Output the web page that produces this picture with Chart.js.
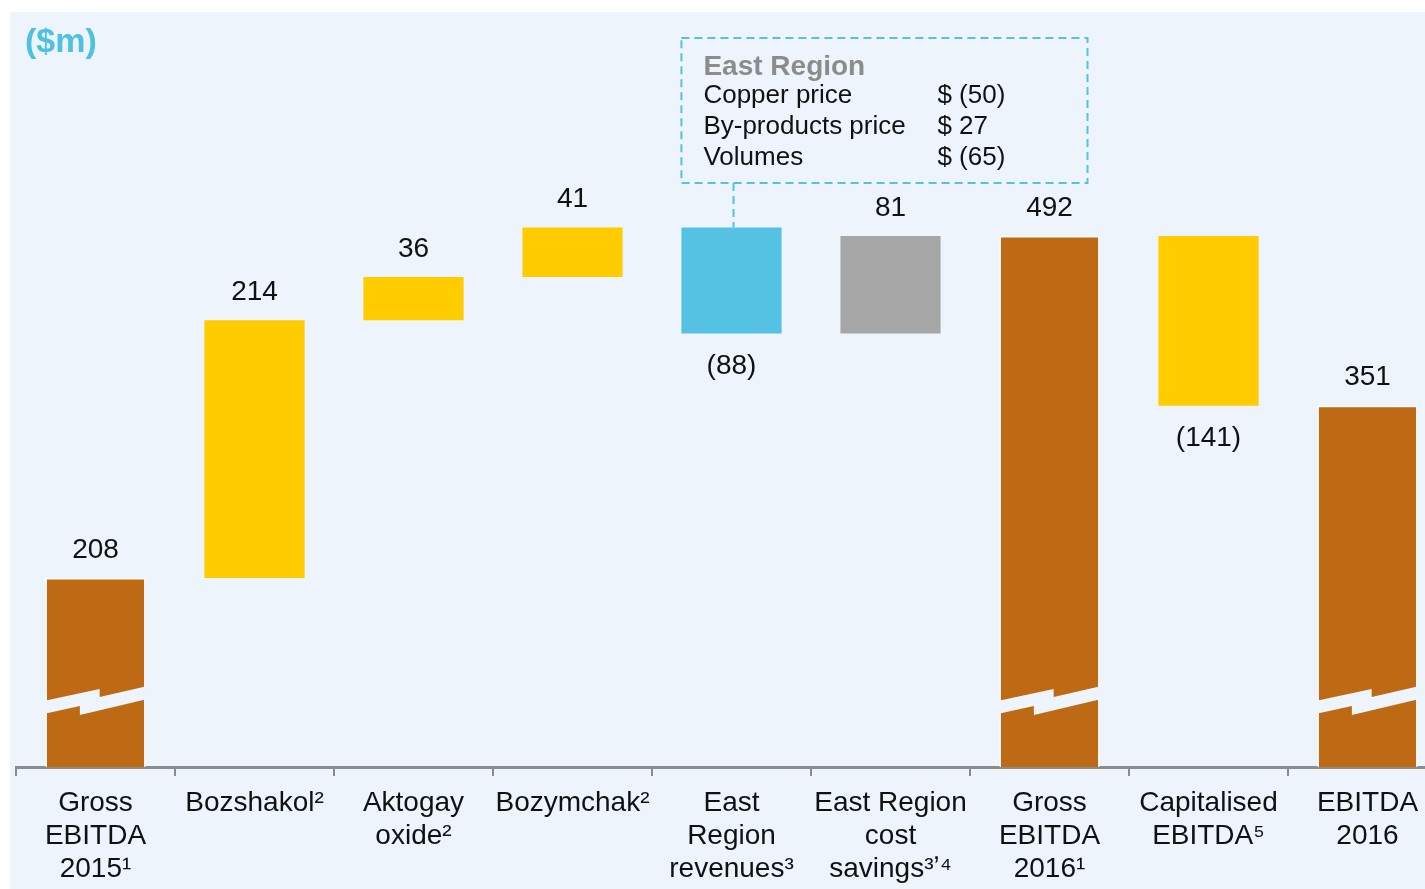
<!DOCTYPE html>
<html>
<head>
<meta charset="utf-8">
<script src="https://cdn.jsdelivr.net/npm/chart.js@4/dist/chart.umd.min.js"></script>
<style>
	html, body { margin: 0; padding: 0; overflow: hidden; background: #fff; }
	#wrap { position: absolute; left: 0; top: 0; width: 1450px; height: 889px; }
</style>
</head>
<body>
<div id="wrap"><canvas id="myChart" width="1450" height="889"></canvas></div>
<script>
const categories = [
	["Gross", "EBITDA", "2015¹"],
	"Bozshakol²",
	["Aktogay", "oxide²"],
	"Bozymchak²",
	["East", "Region", "revenues³"],
	["East Region", "cost", "savings³ʼ⁴"],
	["Gross", "EBITDA", "2016¹"],
	["Capitalised", "EBITDA⁵"],
	["EBITDA", "2016"],
];
const values = [208, 214, 36, 41, -88, 81, 492, -141, 351];
const isTotal = [true, false, false, false, false, false, true, false, true];
const barColors = ["#BE6A15", "#FFCC00", "#FFCC00", "#FFCC00", "#56C2E3", "#A6A6A6", "#BE6A15", "#FFCC00", "#BE6A15"];

const eastRegionTitle = "East Region";
const eastRegionItems = ["Copper price", "By-products price", "Volumes"];
const eastRegionValues = ["$ (50)", "$ 27", "$ (65)"];

const FONT = "'Liberation Sans', Arial, sans-serif";

// waterfall ranges
let running = 0;
const ranges = values.map((v, i) => {
	if (isTotal[i]) {
		running = v;
		return [0, v];
	}
	const start = running;
	running += v;
	return [start, running];
});

const backgroundPlugin = {
	id: "bg",
	beforeDraw(chart) {
		const ctx = chart.ctx;
		ctx.save();
		ctx.fillStyle = "#fff";
		ctx.fillRect(0, 0, chart.width, chart.height);
		ctx.fillStyle = "#EDF4FC";
		ctx.fillRect(10, 12, chart.width - 10, chart.height - 12);
		ctx.restore();
	},
};

const decorPlugin = {
	id: "decor",
	afterDraw(chart) {
		const ctx = chart.ctx;
		const bars = chart.getDatasetMeta(0).data;
		const area = chart.chartArea;
		ctx.save();

		// broken bar marks
		bars.forEach((bar, i) => {
			if (!isTotal[i]) return;
			const L = bar.x - bar.width / 2 - 2;
			const R = bar.x + bar.width / 2 + 2;
			const W = R - L;
			const yc = area.bottom - 67;
			ctx.fillStyle = "#EDF4FC";
			ctx.beginPath();
			ctx.moveTo(L, yc + 1);
			ctx.lineTo(L + 0.54 * W, yc - 11);
			ctx.lineTo(L + 0.54 * W, yc - 3);
			ctx.lineTo(R, yc - 14);
			ctx.lineTo(R, yc - 1);
			ctx.lineTo(L + 0.35 * W, yc + 15);
			ctx.lineTo(L + 0.35 * W, yc + 6);
			ctx.lineTo(L, yc + 14);
			ctx.closePath();
			ctx.fill();
		});

		// value labels
		ctx.fillStyle = "#111";
		ctx.font = "28px " + FONT;
		ctx.textAlign = "center";
		ctx.textBaseline = "middle";
		bars.forEach((bar, i) => {
			const top = Math.min(bar.y, bar.base);
			const bottom = Math.max(bar.y, bar.base);
			const v = values[i];
			if (v < 0) {
				ctx.fillText("(" + (-v) + ")", bar.x, bottom + 33);
			} else {
				ctx.fillText(String(v), bar.x, top - 28);
			}
		});

		// title
		ctx.fillStyle = "#4FC1E0";
		ctx.font = "bold 34px " + FONT;
		ctx.textAlign = "left";
		ctx.fillText("($m)", 25, 43);

		// East Region callout
		const eb = bars[4];
		const bx1 = eb.x - eb.width / 2;
		const bx2 = chart.scales.x.getPixelForValue(6) + 38;
		const by1 = 38, by2 = 183;
		ctx.strokeStyle = "#56C2E3";
		ctx.lineWidth = 2;
		ctx.setLineDash([8, 5]);
		ctx.strokeRect(bx1, by1, bx2 - bx1, by2 - by1);
		ctx.beginPath();
		ctx.moveTo(eb.x + 2, by2);
		ctx.lineTo(eb.x + 2, Math.min(eb.y, eb.base));
		ctx.stroke();
		ctx.setLineDash([]);

		ctx.fillStyle = "#8C8C8C";
		ctx.font = "bold 28px " + FONT;
		ctx.fillText(eastRegionTitle, bx1 + 22, 67);
		ctx.fillStyle = "#111";
		ctx.font = "26px " + FONT;
		eastRegionItems.forEach((t, k) => {
			ctx.fillText(t, bx1 + 22, 96 + k * 31);
			ctx.fillText(eastRegionValues[k], bx1 + 256, 96 + k * 31);
		});
		ctx.restore();
	},
};

new Chart(document.getElementById("myChart"), {
	type: "bar",
	data: {
		labels: categories,
		datasets: [
			{
				data: ranges,
				backgroundColor: barColors,
				borderColor: isTotal.map(t => (t ? "#ffffff" : "rgba(0,0,0,0)")),
				borderWidth: isTotal.map(t => (t ? 1.5 : 0)),
				borderSkipped: false,
				barPercentage: 0.63,
				categoryPercentage: 1,
			},
		],
	},
	options: {
		responsive: false,
		animation: false,
		layout: { padding: { left: 16, top: 12, right: 3, bottom: 0 } },
		plugins: {
			legend: { display: false },
			tooltip: { enabled: false },
		},
		scales: {
			x: {
				grid: {
					offset: true,
					drawOnChartArea: false,
					color: "#8C8C8C",
					lineWidth: 2,
					tickLength: 9,
				},
				border: { color: "#8C8C8C", width: 3 },
				ticks: {
					color: "#111",
					font: { size: 28, family: FONT, lineHeight: 1.18 },
					padding: 11,
					maxRotation: 0,
					autoSkip: false,
				},
				afterFit(scale) {
					scale.height = 122;
				},
			},
			y: {
				display: false,
				min: 51,
				max: 678,
			},
		},
	},
	plugins: [backgroundPlugin, decorPlugin],
});
</script>
</body>
</html>
